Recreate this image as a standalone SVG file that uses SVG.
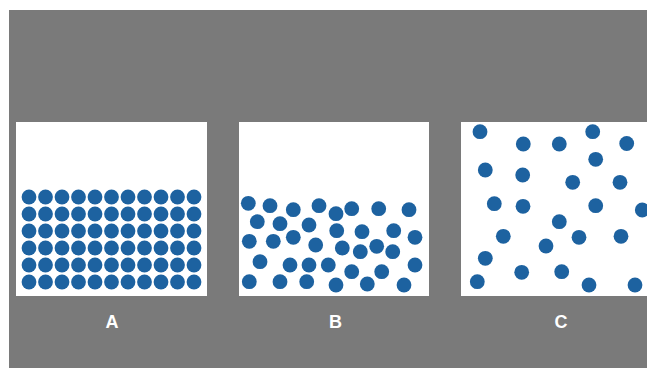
<svg xmlns="http://www.w3.org/2000/svg" width="647" height="368" viewBox="0 0 647 368">
<style>
.panel{fill:#ffffff}
.p{fill:#1d62a0}
.lbl{font-family:"Liberation Sans",Arial,sans-serif;font-weight:bold;font-size:18px;fill:#ffffff;text-anchor:middle}
</style>
<defs>
<circle id="d" r="7.4" class="p"/>
</defs>
<rect x="0" y="0" width="647" height="368" fill="#ffffff"/>
<rect x="9" y="10" width="638" height="358" fill="#7a7a7a"/>
<g id="panelA">
<rect class="panel" x="16" y="122" width="191" height="174"/>
<g id="dotsA">
<use href="#d" x="29" y="197"/><use href="#d" x="45.5" y="197"/><use href="#d" x="62" y="197"/><use href="#d" x="78.5" y="197"/><use href="#d" x="95" y="197"/><use href="#d" x="111.5" y="197"/><use href="#d" x="128" y="197"/><use href="#d" x="144.5" y="197"/><use href="#d" x="161" y="197"/><use href="#d" x="177.5" y="197"/><use href="#d" x="194" y="197"/>
<use href="#d" x="29" y="214"/><use href="#d" x="45.5" y="214"/><use href="#d" x="62" y="214"/><use href="#d" x="78.5" y="214"/><use href="#d" x="95" y="214"/><use href="#d" x="111.5" y="214"/><use href="#d" x="128" y="214"/><use href="#d" x="144.5" y="214"/><use href="#d" x="161" y="214"/><use href="#d" x="177.5" y="214"/><use href="#d" x="194" y="214"/>
<use href="#d" x="29" y="231"/><use href="#d" x="45.5" y="231"/><use href="#d" x="62" y="231"/><use href="#d" x="78.5" y="231"/><use href="#d" x="95" y="231"/><use href="#d" x="111.5" y="231"/><use href="#d" x="128" y="231"/><use href="#d" x="144.5" y="231"/><use href="#d" x="161" y="231"/><use href="#d" x="177.5" y="231"/><use href="#d" x="194" y="231"/>
<use href="#d" x="29" y="248"/><use href="#d" x="45.5" y="248"/><use href="#d" x="62" y="248"/><use href="#d" x="78.5" y="248"/><use href="#d" x="95" y="248"/><use href="#d" x="111.5" y="248"/><use href="#d" x="128" y="248"/><use href="#d" x="144.5" y="248"/><use href="#d" x="161" y="248"/><use href="#d" x="177.5" y="248"/><use href="#d" x="194" y="248"/>
<use href="#d" x="29" y="265"/><use href="#d" x="45.5" y="265"/><use href="#d" x="62" y="265"/><use href="#d" x="78.5" y="265"/><use href="#d" x="95" y="265"/><use href="#d" x="111.5" y="265"/><use href="#d" x="128" y="265"/><use href="#d" x="144.5" y="265"/><use href="#d" x="161" y="265"/><use href="#d" x="177.5" y="265"/><use href="#d" x="194" y="265"/>
<use href="#d" x="29" y="282"/><use href="#d" x="45.5" y="282"/><use href="#d" x="62" y="282"/><use href="#d" x="78.5" y="282"/><use href="#d" x="95" y="282"/><use href="#d" x="111.5" y="282"/><use href="#d" x="128" y="282"/><use href="#d" x="144.5" y="282"/><use href="#d" x="161" y="282"/><use href="#d" x="177.5" y="282"/><use href="#d" x="194" y="282"/>
</g>
<text class="lbl" x="112" y="328">A</text>
</g>
<g id="panelB">
<rect class="panel" x="239" y="122" width="190" height="174"/>
<g id="dotsB">
<use href="#d" x="248.3" y="203.3"/><use href="#d" x="270" y="205.7"/><use href="#d" x="293.3" y="209.7"/><use href="#d" x="319" y="205.7"/><use href="#d" x="336" y="213.7"/><use href="#d" x="351.7" y="208.7"/><use href="#d" x="378.7" y="208.7"/><use href="#d" x="409" y="209.7"/>
<use href="#d" x="257.3" y="221.7"/><use href="#d" x="280" y="223.7"/><use href="#d" x="309" y="225"/><use href="#d" x="336.7" y="230.7"/><use href="#d" x="362" y="231.7"/><use href="#d" x="393.7" y="230.7"/><use href="#d" x="415" y="237.3"/>
<use href="#d" x="249.3" y="241.3"/><use href="#d" x="273.3" y="241.3"/><use href="#d" x="293.3" y="237.3"/><use href="#d" x="315.7" y="245"/><use href="#d" x="342.3" y="248"/><use href="#d" x="360.3" y="251.7"/><use href="#d" x="376.7" y="246.3"/><use href="#d" x="392.7" y="251.7"/>
<use href="#d" x="260" y="261.7"/><use href="#d" x="290" y="265"/><use href="#d" x="309" y="265"/><use href="#d" x="328.3" y="265"/><use href="#d" x="351.7" y="271.7"/><use href="#d" x="381.7" y="271.7"/><use href="#d" x="415" y="265"/>
<use href="#d" x="249.3" y="281.7"/><use href="#d" x="280" y="281.7"/><use href="#d" x="306.7" y="281.7"/><use href="#d" x="336" y="285"/><use href="#d" x="367.3" y="284"/><use href="#d" x="404" y="285"/>
</g>
<text class="lbl" x="335.5" y="328">B</text>
</g>
<g id="panelC">
<rect class="panel" x="461" y="122" width="186" height="174"/>
<g id="dotsC">
<use href="#d" x="480" y="131.7"/><use href="#d" x="523.3" y="144"/><use href="#d" x="559.3" y="144"/><use href="#d" x="592.7" y="131.7"/><use href="#d" x="626.7" y="143.5"/><use href="#d" x="595.7" y="159.3"/>
<use href="#d" x="485.3" y="170"/><use href="#d" x="522.7" y="175"/><use href="#d" x="572.7" y="182.3"/><use href="#d" x="620" y="182.3"/>
<use href="#d" x="494.3" y="203.7"/><use href="#d" x="523" y="206.3"/><use href="#d" x="595.7" y="205.7"/><use href="#d" x="642.3" y="210"/>
<use href="#d" x="559.3" y="221.7"/><use href="#d" x="503.3" y="236.3"/><use href="#d" x="579" y="237.3"/><use href="#d" x="621" y="236.3"/><use href="#d" x="546" y="246"/>
<use href="#d" x="485.3" y="258.3"/><use href="#d" x="521.7" y="272.3"/><use href="#d" x="561.7" y="271.7"/><use href="#d" x="477.3" y="281.7"/><use href="#d" x="589" y="285"/><use href="#d" x="635" y="285"/>
</g>
<text class="lbl" x="561" y="328">C</text>
</g>
</svg>
